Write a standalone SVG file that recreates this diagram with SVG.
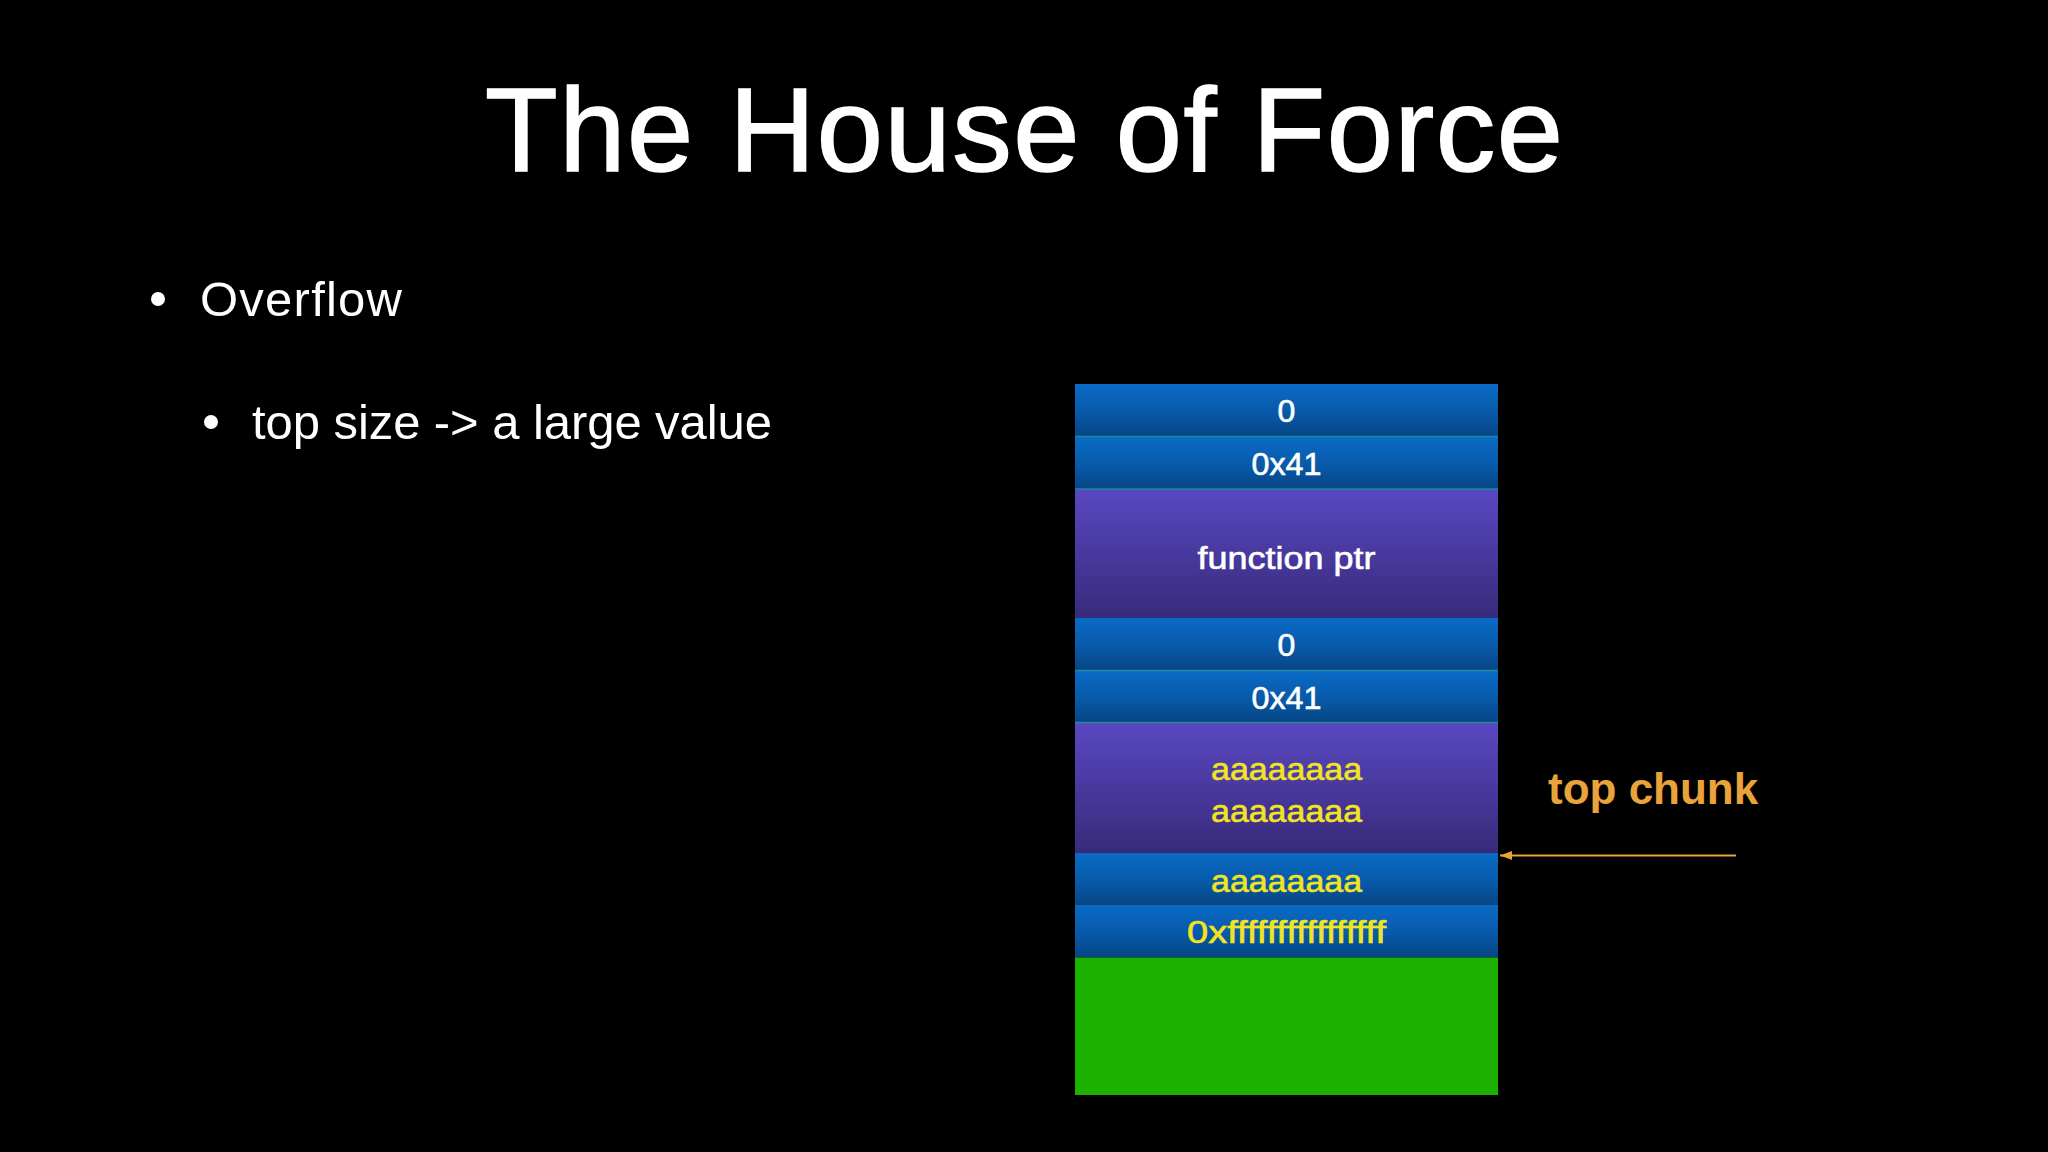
<svg xmlns="http://www.w3.org/2000/svg" width="2048" height="1152" viewBox="0 0 2048 1152">
  <defs>
    <linearGradient id="gBlue" x1="0" y1="0" x2="0" y2="1">
      <stop offset="0" stop-color="#0A6BC6"/>
      <stop offset="0.55" stop-color="#0859A8"/>
      <stop offset="1" stop-color="#064584"/>
    </linearGradient>
    <linearGradient id="gPurple" x1="0" y1="0" x2="0" y2="1">
      <stop offset="0" stop-color="#5948C2"/>
      <stop offset="1" stop-color="#382A7A"/>
    </linearGradient>
    <marker id="arrowHead" viewBox="0 0 12 10" refX="12" refY="5" markerWidth="12" markerHeight="10" markerUnits="userSpaceOnUse" orient="auto">
      <path d="M0,0.5 L12,5 L0,9.5 Z" fill="#E8A33A"/>
    </marker>
    <style>
      .title { font-family: "Liberation Sans", Arial, sans-serif; font-size: 119px; fill: #FFFFFF; stroke: #FFFFFF; stroke-width: 1.6px; }
      .bullet { font-family: "Liberation Sans", Arial, sans-serif; font-size: 49px; fill: #FFFFFF; }
      .lbl { font-family: "Liberation Sans", Arial, sans-serif; font-size: 32px; fill: #FFFFFF; stroke: #FFFFFF; stroke-width: 0.6px; text-anchor: middle; }
      .ylw { fill: #F2E420; stroke: #F2E420; }
      .sep { stroke: #1E8A9A; stroke-width: 1.5px; }
      .orange { font-family: "Liberation Sans", Arial, sans-serif; font-size: 44px; font-weight: bold; fill: #E8A33A; }
    </style>
  </defs>

  <rect x="0" y="0" width="2048" height="1152" fill="#000000"/>

  <g id="title">
    <text class="title" x="485" y="171" textLength="1078" lengthAdjust="spacing">The House of Force</text>
  </g>

  <g id="bullets">
    <circle cx="158" cy="299" r="7" fill="#FFFFFF"/>
    <text class="bullet" x="200" y="316" textLength="202" lengthAdjust="spacing">Overflow</text>
    <circle cx="211" cy="422" r="7" fill="#FFFFFF"/>
    <text class="bullet" x="252" y="439" textLength="520" lengthAdjust="spacing">top size -&gt; a large value</text>
  </g>

  <g id="row-prev-size-0">
    <rect x="1075" y="384" width="423" height="52.5" fill="url(#gBlue)"/>
    <text class="lbl" x="1286.5" y="422">0</text>
  </g>
  <g id="row-size-0x41-1">
    <rect x="1075" y="436.5" width="423" height="52.5" fill="url(#gBlue)"/>
    <line class="sep" x1="1075" y1="436.5" x2="1498" y2="436.5"/>
    <text class="lbl" x="1286.5" y="475" textLength="70" lengthAdjust="spacingAndGlyphs">0x41</text>
  </g>
  <g id="row-function-ptr">
    <rect x="1075" y="489" width="423" height="129" fill="url(#gPurple)"/>
    <line class="sep" x1="1075" y1="489" x2="1498" y2="489"/>
    <text class="lbl" x="1286.5" y="569" textLength="178" lengthAdjust="spacingAndGlyphs">function ptr</text>
  </g>
  <g id="row-prev-size-0b">
    <rect x="1075" y="618" width="423" height="52.5" fill="url(#gBlue)"/>
    <text class="lbl" x="1286.5" y="656">0</text>
  </g>
  <g id="row-size-0x41-2">
    <rect x="1075" y="670.5" width="423" height="52" fill="url(#gBlue)"/>
    <line class="sep" x1="1075" y1="670.5" x2="1498" y2="670.5"/>
    <text class="lbl" x="1286.5" y="709" textLength="70" lengthAdjust="spacingAndGlyphs">0x41</text>
  </g>
  <g id="row-overflow-data">
    <rect x="1075" y="722.5" width="423" height="130.5" fill="url(#gPurple)"/>
    <line class="sep" x1="1075" y1="722.5" x2="1498" y2="722.5"/>
    <text class="lbl ylw" x="1286.5" y="780" textLength="151" lengthAdjust="spacingAndGlyphs">aaaaaaaa</text>
    <text class="lbl ylw" x="1286.5" y="821.5" textLength="151" lengthAdjust="spacingAndGlyphs">aaaaaaaa</text>
  </g>
  <g id="row-top-prev-size">
    <rect x="1075" y="853" width="423" height="52" fill="url(#gBlue)"/>
    <text class="lbl ylw" x="1286.5" y="891.5" textLength="151" lengthAdjust="spacingAndGlyphs">aaaaaaaa</text>
  </g>
  <g id="row-top-size">
    <rect x="1075" y="905" width="423" height="52.5" fill="url(#gBlue)"/>
    <text class="lbl ylw" x="1286.5" y="942.5" textLength="199" lengthAdjust="spacingAndGlyphs">0xffffffffffffffff</text>
  </g>
  <g id="row-top-free">
    <rect x="1075" y="957.5" width="423" height="137.5" fill="#1DB100"/>
  </g>

  <g id="top-chunk-label">
    <text class="orange" x="1548" y="804">top chunk</text>
  </g>

  <g id="connectors">
    <line x1="1736" y1="855.5" x2="1500" y2="855.5" stroke="#E8A33A" stroke-width="2.2" marker-end="url(#arrowHead)"/>
  </g>
</svg>
